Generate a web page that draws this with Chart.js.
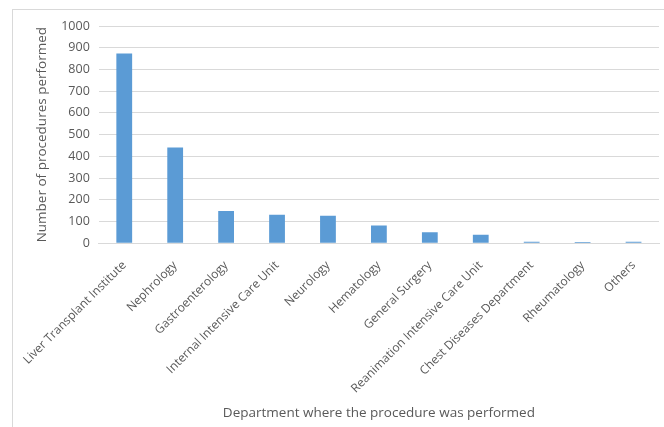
<!DOCTYPE html>
<html>
<head>
<meta charset="utf-8">
<script src="https://cdn.jsdelivr.net/npm/chart.js@4.4.1/dist/chart.umd.min.js"></script>
<style>
  html, body { margin: 0; padding: 0; background: #fff; }
  #wrap { position: relative; width: 664px; height: 427px; }
  #frame { position: absolute; left: 12px; top: 9px; width: 700px; height: 500px;
           border-left: 1px solid #d9d9d9; border-top: 1px solid #d9d9d9; }
  canvas { position: absolute; left: 0; top: 0; }
</style>
</head>
<body>
<div id="wrap">
  <div id="frame"></div>
  <canvas id="mycanvas" width="664" height="427"></canvas>
</div>
<script>
var departments = [
  'Liver Transplant Institute', 'Nephrology', 'Gastroenterology',
  'Internal Intensive Care Unit', 'Neurology', 'Hematology', 'General Surgery',
  'Reanimation Intensive Care Unit', 'Chest Diseases Department',
  'Rheumatology', 'Others'
];
var procedures = [874, 441, 149, 131, 127, 82, 51, 39, 7, 6, 7];
var yTicks = [0, 100, 200, 300, 400, 500, 600, 700, 800, 900, 1000];

var textColor = '#595959';
var fontFamily = "'Open Sans', 'Noto Sans', sans-serif";

var ctx = document.getElementById('mycanvas');
var myChart = new Chart(ctx, {
  type: 'bar',
  data: {
    labels: departments,
    datasets: [{
      label: 'Number of procedures performed',
      data: procedures,
      backgroundColor: '#5b9bd5',
      borderWidth: 0,
      barPercentage: 0.62,
      categoryPercentage: 0.5
    }]
  },
  options: {
    responsive: false,
    animation: false,
    layout: { padding: { left: 30, right: 5, top: 26, bottom: 6 } },
    plugins: {
      legend: { display: false },
      tooltip: { enabled: false }
    },
    scales: {
      x: {
        grid: { display: false },
        border: { display: true, color: '#d9d9d9', width: 1 },
        ticks: {
          color: textColor,
          font: { family: fontFamily, size: 12 },
          minRotation: 45,
          maxRotation: 45,
          autoSkip: false,
          padding: 7
        },
        title: {
          display: true,
          text: 'Department where the procedure was performed',
          color: textColor,
          font: { family: fontFamily, size: 13.5 },
          padding: { top: 2, bottom: 0 }
        }
      },
      y: {
        min: 0,
        max: 1000,
        afterBuildTicks: function(axis) {
          axis.ticks = yTicks.map(function(v) { return { value: v }; });
        },
        grid: { color: '#d9d9d9', drawTicks: false },
        border: { display: false },
        ticks: {
          color: textColor,
          font: { family: fontFamily, size: 12.5 },
          padding: 9,
          callback: function(v) { return String(v); }
        },
        title: {
          display: true,
          text: 'Number of procedures performed',
          color: textColor,
          font: { family: fontFamily, size: 13.5 },
          padding: { top: 4, bottom: 2 }
        }
      }
    }
  }
});
</script>
</body>
</html>
